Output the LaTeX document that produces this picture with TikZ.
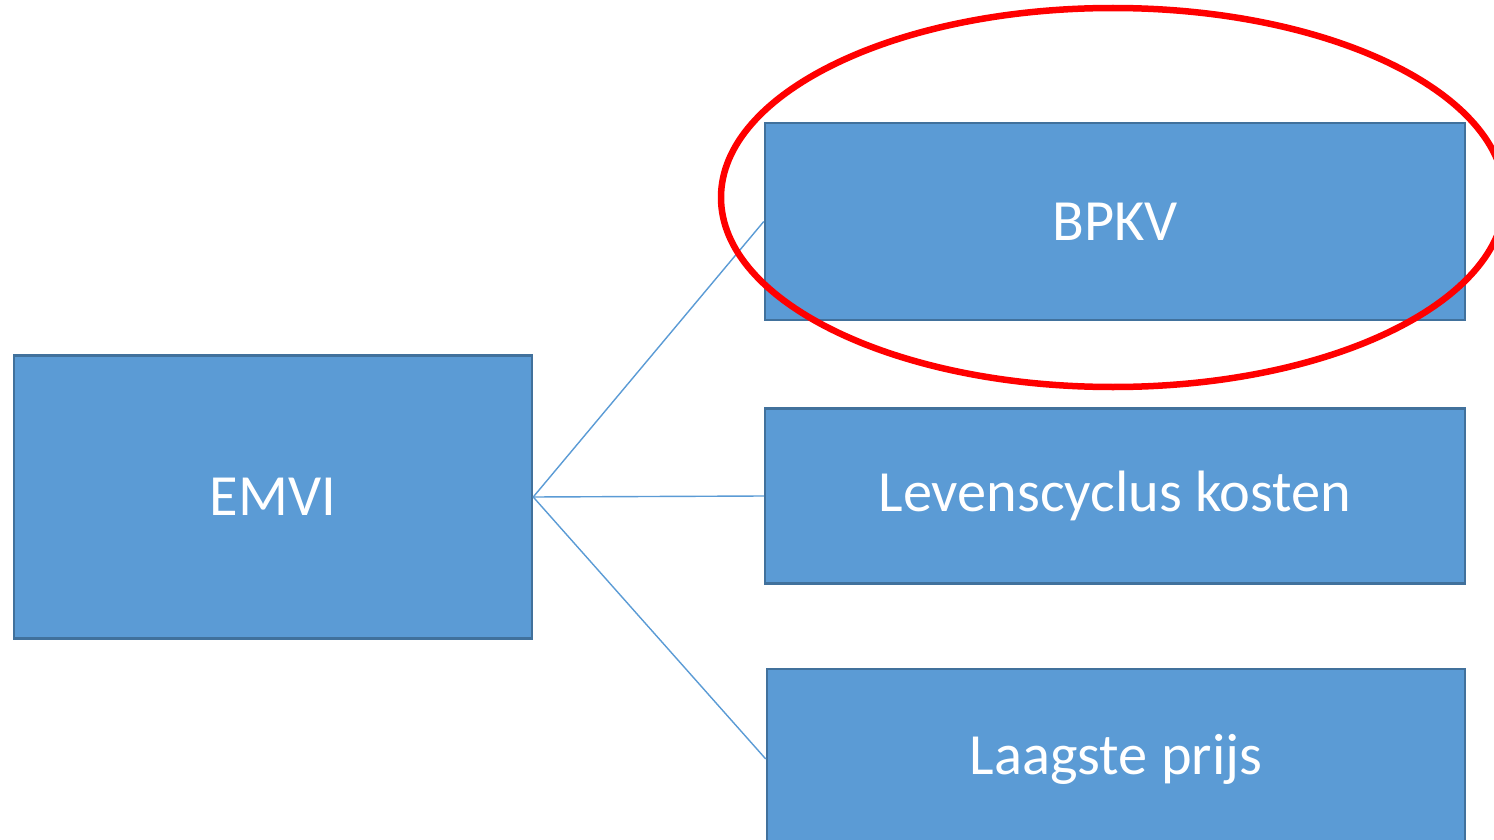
\documentclass[tikz,border=0pt]{standalone}
\usepackage{fontspec}
\setmainfont{Carlito}
\usetikzlibrary{positioning}
\definecolor{boxfill}{HTML}{5B9BD5}
\definecolor{boxline}{HTML}{41719C}

\begin{document}
\begin{tikzpicture}[
    item/.style={draw=boxline, line width=0.7pt, fill=boxfill, text=white, font=\fontsize{16.6}{20}\selectfont, minimum width=7cm, inner sep=0pt},
    link/.style={draw=boxfill, line width=0.4pt}
  ]
    \path[use as bounding box, clip] (0,0) rectangle (14.94,-8.4);

    \node[item, minimum width=5.18cm, minimum height=2.83cm] (emvi) at (2.73,-4.97) {EMVI};
    \node[item, minimum height=1.97cm] (bpkv) at (11.15,-2.215) {BPKV};
    \node[item, minimum height=1.75cm] (lcc)  at (11.15,-4.96) {Levenscyclus kosten};
    \node[item, minimum width=6.98cm, minimum height=1.8cm] (lp) at (11.16,-7.59) {Laagste prijs};

    \foreach \n in {bpkv,lcc,lp} \draw[link] (emvi.east) -- (\n.west);

    % markering
    \draw[red, line width=1.85pt] (11.13,-1.975) ellipse (3.92cm and 1.895cm);
  \end{tikzpicture}
\end{document}
